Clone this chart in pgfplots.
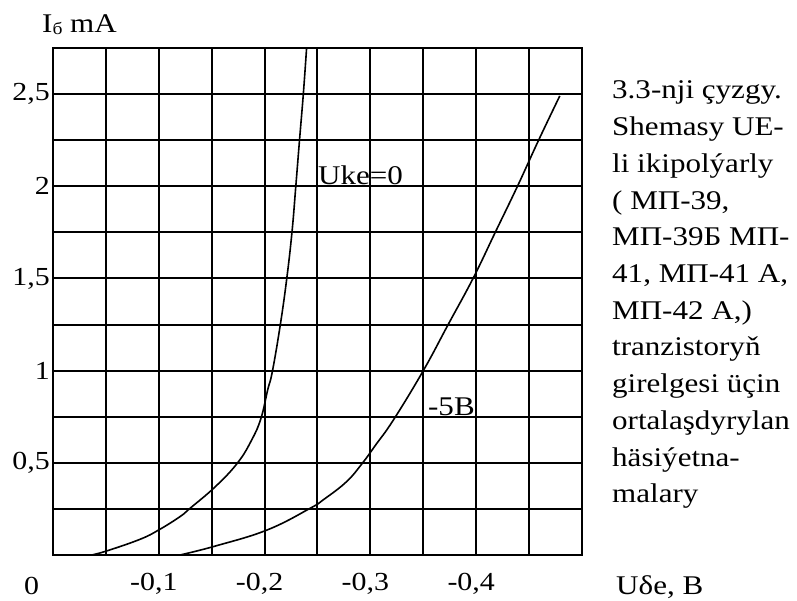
\documentclass[border=0pt]{standalone}
\usepackage{fontspec}
\setmainfont{Liberation Serif}[FakeStretch=1.15]
\usepackage{pgfplots}
\pgfplotsset{compat=1.18}
\newcommand{\bigf}{\fontsize{27}{36.7}\selectfont}
\newcommand{\tickf}{\fontsize{26}{30}\selectfont}
\begin{document}
\begin{tikzpicture}
\path[use as bounding box] (-53pt,-45pt) rectangle (744pt,555pt);
\begin{axis}[
  scale only axis, width=529pt, height=507pt,
  at={(0pt,0pt)}, anchor=south west,
  xmin=-0.5, xmax=0, ymin=0, ymax=2.75, x dir=reverse,
  xtick={0,-0.05,-0.1,-0.15,-0.2,-0.25,-0.3,-0.35,-0.4,-0.45,-0.5},
  xticklabels={{},{},{-0,1},{},{-0,2},{},{-0,3},{},{-0,4},{},{}},
  ytick={0,0.25,0.5,0.75,1,1.25,1.5,1.75,2,2.25,2.5,2.75},
  yticklabels={{},{},{0,5},{},{1},{},{1,5},{},{2},{},{2,5},{}},
  grid=major, major grid style={black, line width=2pt},
  major tick length=0pt,
  axis line style={black, line width=2.2pt},
  tick label style={font=\tickf},
  xticklabel style={anchor=base, yshift=-35pt, xshift=-5pt, inner sep=0pt},
  yticklabel style={anchor=east, xshift=-3pt, inner sep=0pt},
]
% Uke = 0
\addplot[black, line width=1.6pt, smooth, tension=0.7] coordinates {
  (-0.0365,0) (-0.0513,0.023) (-0.0822,0.085) (-0.100,0.136) (-0.12,0.208)
  (-0.1295,0.253) (-0.1537,0.372) (-0.1745,0.5) (-0.1878,0.624) (-0.1965,0.74)
  (-0.2029,0.895) (-0.2073,0.994) (-0.2148,1.247) (-0.2209,1.497)
  (-0.2259,1.752) (-0.2295,2.0) (-0.233,2.25) (-0.2366,2.5) (-0.2397,2.75)
};
% -5 B
\addplot[black, line width=1.6pt, smooth, tension=0.7] coordinates {
  (-0.120,0) (-0.1537,0.049) (-0.2025,0.136) (-0.2429,0.253) (-0.2561,0.302)
  (-0.2775,0.398) (-0.2927,0.5) (-0.305,0.597) (-0.3217,0.732) (-0.35,1.0)
  (-0.3735,1.25) (-0.397,1.5) (-0.418,1.75) (-0.439,2.0) (-0.459,2.25)
  (-0.479,2.49)
};
\node[anchor=base west, inner sep=0pt, font=\bigf] at (axis cs:-0.2505,2.012) {Uke=0};
\node[anchor=base west, inner sep=0pt, font=\bigf] at (axis cs:-0.3544,0.759) {-5B};
\end{axis}
\node[anchor=base west, inner sep=0pt, font=\bigf] at (-11pt,522pt) {I\raisebox{-2pt}{\fontsize{17}{20}\selectfont б} mA};
\node[anchor=base, inner sep=0pt, font=\tickf] at (-21.5pt,-39pt) {0};
\node[anchor=base west, inner sep=0pt, font=\bigf] at (563pt,-39pt) {Uδe, B};
\node[anchor=base west, inner sep=0pt, font=\bigf] at (559pt,456pt) {3.3-nji çyzgy.};
\node[anchor=base west, inner sep=0pt, font=\bigf] at (559pt,419.3pt) {Shemasy UE-};
\node[anchor=base west, inner sep=0pt, font=\bigf] at (559pt,382.6pt) {li ikipolýarly};
\node[anchor=base west, inner sep=0pt, font=\bigf] at (559pt,345.9pt) {( МП-39,};
\node[anchor=base west, inner sep=0pt, font=\bigf] at (559pt,309.2pt) {МП-39Б МП-};
\node[anchor=base west, inner sep=0pt, font=\bigf] at (559pt,272.5pt) {41, МП-41 А,};
\node[anchor=base west, inner sep=0pt, font=\bigf] at (559pt,235.8pt) {МП-42 А,)};
\node[anchor=base west, inner sep=0pt, font=\bigf] at (559pt,199.1pt) {tranzistoryň};
\node[anchor=base west, inner sep=0pt, font=\bigf] at (559pt,162.4pt) {girelgesi üçin};
\node[anchor=base west, inner sep=0pt, font=\bigf] at (559pt,125.7pt) {ortalaşdyrylan};
\node[anchor=base west, inner sep=0pt, font=\bigf] at (559pt,89pt) {häsiýetna-};
\node[anchor=base west, inner sep=0pt, font=\bigf] at (559pt,52.3pt) {malary};
\end{tikzpicture}
\end{document}
